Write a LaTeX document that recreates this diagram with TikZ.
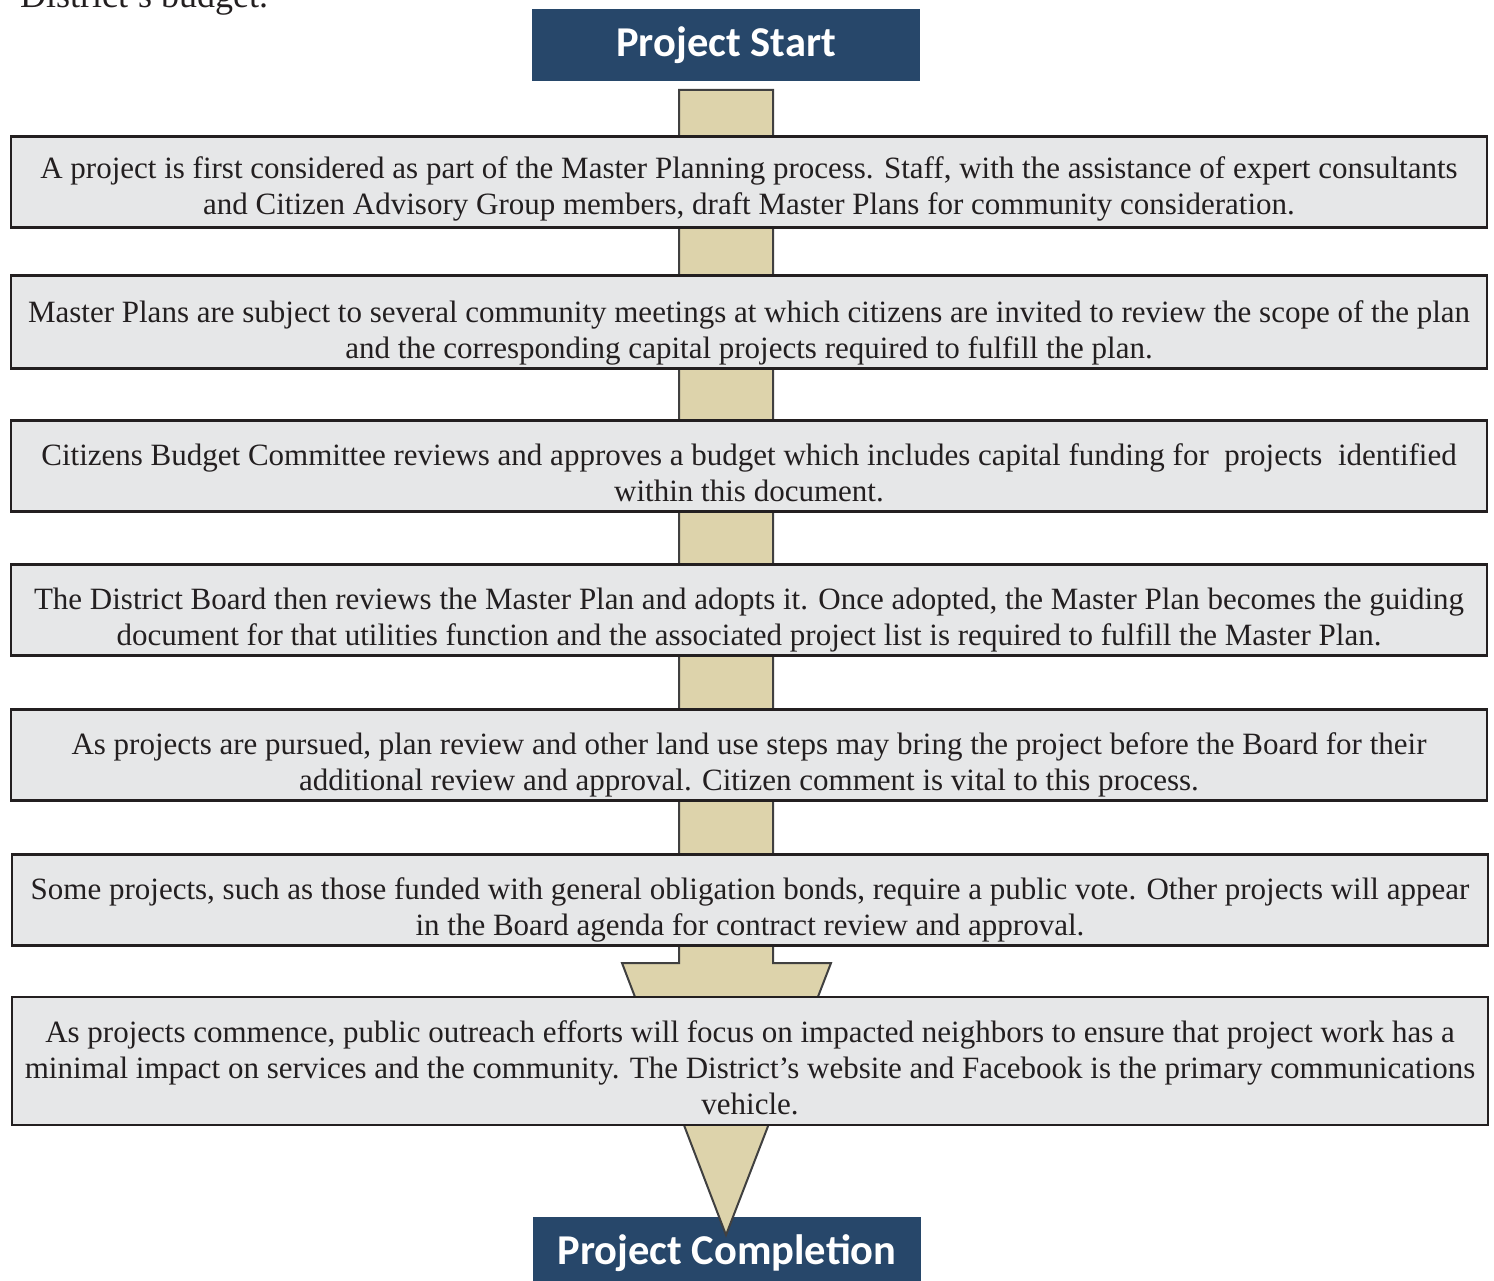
\documentclass[tikz,border=0pt]{standalone}
\usepackage{fontspec}
\setmainfont{Liberation Serif}
\newfontfamily\headfont{Carlito}
\usetikzlibrary{positioning,calc}
\definecolor{navy}{HTML}{27476A}
\definecolor{tan}{HTML}{DDD3AB}
\definecolor{boxgray}{HTML}{E6E7E8}
\definecolor{rim}{HTML}{231F20}

\begin{document}
\begin{tikzpicture}[x=1pt,y=-1pt]
		\tikzstyle{Head}=[fill=navy,text=white,inner sep=0pt,minimum width=388pt,minimum height=72pt,font=\headfont\bfseries\fontsize{42.5}{46}\selectfont]
		\tikzstyle{Stage}=[draw=rim,line width=2.5pt,fill=boxgray,text=rim,inner sep=0pt,align=center,minimum width=1476pt,minimum height=91pt,text height=79pt,text depth=8pt,font=\rmfamily\fontsize{31}{36}\selectfont]
		\tikzstyle{Shaft}=[fill=tan,draw=black!75,line width=2pt,line join=miter]
		\useasboundingbox (0,0) rectangle (1494,1281);
		% text running over from the page above
		\node[anchor=base west,inner sep=0pt,text=rim,font=\rmfamily\fontsize{36}{40}\selectfont] (prev) at (20,8) {District’s budget.};
		\node[Head] (start) at (726,45) {Project Start};
		\node[Head] (finish) at (727,1253) {Project Completion};
		% the big arrow behind the boxes
		\draw[Shaft] (679,90) -- (773,90) -- (773,963) -- (831,963) -- (726,1235)
			-- (622,963) -- (679,963) -- cycle;
		\node[Stage,text height=74pt] (s1) at (749,182) {A project is first considered as part of the Master Planning process. Staff, with the assistance of expert consultants\\ and Citizen Advisory Group members, draft Master Plans for community consideration.};
		\node[Stage,minimum height=93pt,text height=82pt] (s2) at (749,322) {Master Plans are subject to several community meetings at which citizens are invited to review the scope of the plan\\ and the corresponding capital projects required to fulfill the plan.};
		\node[Stage] (s3) at (749,466) {Citizens Budget Committee reviews and approves a budget which includes capital funding for ~projects ~identified\\ within this document.};
		\node[Stage] (s4) at (749,610) {The District Board then reviews the Master Plan and adopts it. Once adopted, the Master Plan becomes the guiding\\ document for that utilities function and the associated project list is required to fulfill the Master Plan.};
		\node[Stage] (s5) at (749,755) {As projects are pursued, plan review and other land use steps may bring the project before the Board for their\\ additional review and approval. Citizen comment is vital to this process.};
		\node[Stage] (s6) at (750,900) {Some projects, such as those funded with general obligation bonds, require a public vote. Other projects will appear\\ in the Board agenda for contract review and approval.};
		\node[Stage,minimum height=128pt,text height=115pt] (s7) at (750,1061) {As projects commence, public outreach efforts will focus on impacted neighbors to ensure that project work has a\\ minimal impact on services and the community. The District’s website and Facebook is the primary communications\\ vehicle.};
	\end{tikzpicture}
\end{document}
